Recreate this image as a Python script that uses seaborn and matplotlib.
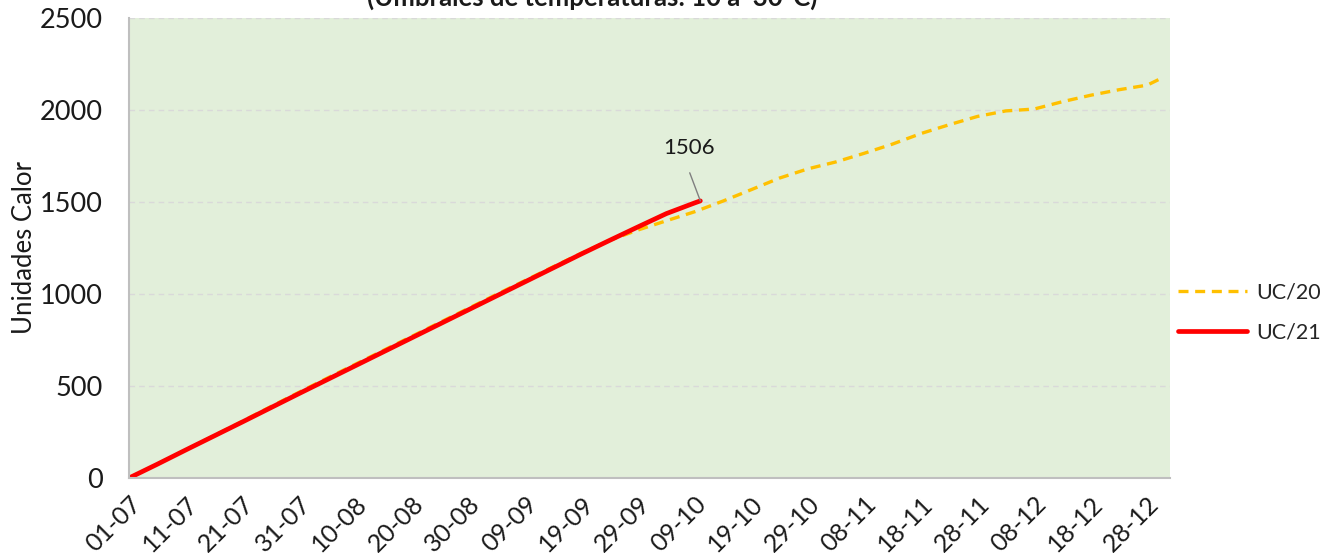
import pandas as pd
import matplotlib.pyplot as plt
import matplotlib.dates as mdates
from matplotlib.ticker import MultipleLocator, FixedLocator
import seaborn as sns

# DATA
fechas_20 = ["01-07", "06-07", "11-07", "16-07", "21-07", "26-07", "31-07",
             "05-08", "10-08", "15-08", "20-08", "25-08", "30-08",
             "04-09", "09-09", "14-09", "19-09", "24-09", "29-09",
             "04-10", "09-10", "14-10", "19-10", "24-10", "29-10",
             "03-11", "08-11", "13-11", "18-11", "23-11", "28-11",
             "03-12", "08-12", "13-12", "18-12", "23-12", "28-12", "30-12"]
uc_20 = [0, 76, 153, 230, 308, 387, 465,
         542, 618, 694, 770, 846, 922,
         998, 1073, 1148, 1222, 1292, 1348,
         1398, 1447, 1505, 1567, 1630, 1680,
         1718, 1765, 1815, 1872, 1920, 1965,
         1995, 2005, 2045, 2080, 2110, 2135, 2165]

fechas_21 = ["01-07", "06-07", "11-07", "16-07", "21-07", "26-07", "31-07",
             "05-08", "10-08", "15-08", "20-08", "25-08", "30-08",
             "04-09", "09-09", "14-09", "19-09", "24-09", "29-09",
             "04-10", "09-10", "10-10"]
uc_21 = [0, 75, 152, 228, 304, 381, 458,
         534, 610, 686, 762, 838, 914,
         990, 1066, 1142, 1218, 1292, 1365,
         1437, 1495, 1506]

ultimo_valor = 1506
titulo = "(Umbrales de temperaturas: 10 a  30°C)"


def a_fecha(lista):
    return pd.to_datetime([f + "-2021" for f in lista], format="%d-%m-%Y")


df20 = pd.DataFrame({"fecha": a_fecha(fechas_20), "uc": uc_20})
df21 = pd.DataFrame({"fecha": a_fecha(fechas_21), "uc": uc_21})

# -------------------------
# PLOT
# -------------------------
sns.set_style("white")
plt.rcParams["font.family"] = ["Lato", "DejaVu Sans"]

fig = plt.figure(figsize=(13.33, 5.53), dpi=100)
ax = fig.add_axes([0.0968, 0.1356, 0.7808, 0.8319])
ax.set_facecolor("#E2EFDA")

sns.lineplot(data=df20, x="fecha", y="uc", ax=ax, color="#FFC000",
             linewidth=2.4, linestyle=(0, (3, 2)), label="UC/20")
sns.lineplot(data=df21, x="fecha", y="uc", ax=ax, color="#FF0000",
             linewidth=3.4, label="UC/21")

# axes
ax.set_ylim(0, 2500)
ax.set_xlim(pd.Timestamp("2021-07-01"), pd.Timestamp("2022-01-01"))
ax.yaxis.set_major_locator(MultipleLocator(500))
ax.yaxis.set_minor_locator(MultipleLocator(100))
ax.xaxis.set_major_locator(FixedLocator(mdates.date2num(
    pd.date_range("2021-07-01", "2021-12-31", freq="10D"))))
ax.xaxis.set_minor_locator(FixedLocator(mdates.date2num(
    pd.date_range("2021-07-01", "2021-12-31", freq="5D"))))
ax.xaxis.set_major_formatter(mdates.DateFormatter("%d-%m"))

ax.grid(axis="y", which="major", color="#D9D9D9", linestyle=(0, (4, 3)), linewidth=1)
ax.set_axisbelow(True)
for s in ["top", "right"]:
    ax.spines[s].set_visible(False)
for s in ["left", "bottom"]:
    ax.spines[s].set_color("#BFBFBF")
    ax.spines[s].set_linewidth(1.5)

ax.tick_params(axis="both", which="both", direction="out", color="#BFBFBF",
               width=1.5, length=7, labelcolor="#1a1a1a")
ax.tick_params(axis="y", labelsize=19.5, pad=12)
ax.tick_params(axis="x", labelsize=18, pad=3)
ax.tick_params(axis="x", which="minor", length=5)
plt.setp(ax.get_xticklabels(), rotation=45, ha="right", rotation_mode="anchor")

ax.set_xlabel("")
ax.set_ylabel("Unidades Calor", fontsize=18.5, color="#1a1a1a", labelpad=2)

# last value label
ax.annotate(str(ultimo_valor), xy=(df21["fecha"].iloc[-1], ultimo_valor),
            xytext=(-8, 31), textcoords="offset points", ha="center",
            va="bottom", fontsize=16, color="#1a1a1a",
            arrowprops=dict(arrowstyle="-", color="#7f7f7f", lw=1,
                            shrinkA=9, shrinkB=0, relpos=(0.4, 0)))

# legend outside on the right
ax.legend(loc="center left", bbox_to_anchor=(1.0, 0.36), frameon=False,
          fontsize=15.5, handlelength=3.2, labelspacing=0.95,
          borderaxespad=0.0, handletextpad=0.4)

# title (cut at the top of the image)
fig.text(0.444, 0.99, titulo, ha="center", va="baseline",
         fontsize=18.5, fontweight="bold", color="#1a1a1a")

plt.savefig("out.png", dpi=100)
